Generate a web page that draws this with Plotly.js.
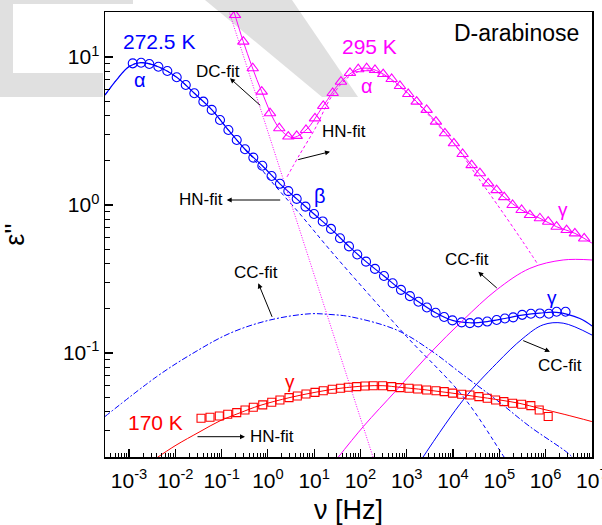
<!DOCTYPE html>
<html>
<head>
<meta charset="utf-8">
<script src="https://cdn.plot.ly/plotly-3.0.1.min.js"></script>
<style>html,body{margin:0;padding:0;background:#fff;}#chart{width:602px;height:525px;}</style>
</head>
<body>
<div id="chart"></div>
<script>
// ---- measured data (read from the reference) ----
// 272.5 K, open blue circles
const blueNu = [0.00120,0.00182,0.00274,0.00430,0.00671,0.0107,0.0168,0.0257,0.0403,0.0611,0.0923,0.140,0.212,0.320,0.484,0.757,1.20,1.82,2.76,4.19,6.49,9.91,15.3,23.1,36.1,56.5,85.3,132,206,322,495,750,1172,1791,2729,4207,6427,9705,15350,23170,34990,54830,87500,132100,199500,312600,482000,753400,1178000,1730000,2704000];
const blueEps = [9.06,9.14,8.97,8.59,8.04,7.29,6.47,5.69,4.99,4.39,3.75,3.21,2.75,2.38,2.09,1.84,1.57,1.39,1.24,1.10,0.975,0.869,0.774,0.689,0.596,0.525,0.463,0.414,0.370,0.331,0.296,0.267,0.242,0.222,0.203,0.187,0.175,0.166,0.161,0.159,0.161,0.163,0.167,0.171,0.174,0.181,0.184,0.185,0.184,0.190,0.190];
// 295 K, open magenta triangles
const magNu = [0.195,0.294,0.470,0.735,1.11,1.76,2.76,4.19,6.65,10.4,15.7,25.1,37.9,59.3,89.5,136,206,310,472,713,1076,1637,2692,4276,6683,10440,16110,25230,38110,57540,87500,127600,193600,303400,458100,753400,1138000,1730000,2844000,4295000,6823000];
const magEps = [19.2,12.7,8.39,5.83,4.17,3.30,2.90,2.93,3.21,3.85,4.67,5.71,6.81,7.80,8.26,8.39,8.17,7.67,7.10,6.37,5.62,4.99,4.39,3.66,3.05,2.61,2.21,1.86,1.64,1.40,1.26,1.13,1.00,0.925,0.855,0.813,0.771,0.713,0.677,0.643,0.594];
// 170 K, open red squares
const redNu = [0.0359,0.0561,0.0891,0.1355,0.212,0.320,0.484,0.773,1.21,1.82,2.86,4.32,6.65,10.4,15.7,24.6,37.3,54.5,82.8,125,189,301,472,713,1117,1718,2692,4276,6457,9795,15350,23170,36220,54830,83180,125600,193600,303400,480800,727800,1138000];
const redEps = [0.0362,0.0368,0.0375,0.0385,0.0395,0.0412,0.0430,0.0446,0.0465,0.0481,0.0499,0.0512,0.0528,0.0542,0.0556,0.0569,0.0577,0.0586,0.0592,0.0598,0.0601,0.0601,0.0592,0.0583,0.0577,0.0571,0.0562,0.0556,0.0548,0.0535,0.0526,0.0520,0.0507,0.0494,0.0481,0.0469,0.0457,0.0450,0.0441,0.0412,0.0372];

// ---- fit curves ----
const blueFitNu = [0.000302,0.000537,0.001,0.00178,0.00427,0.0107,0.0257,0.0617,0.140,0.320,0.757,1.82,4.19,9.91,23.1,56.5,132,322,750,1791,4207,9705,23170,54830,132100,312600,753400,1730000,5508000,10140000];
const blueFitEps = [5.53,7.00,8.61,9.16,8.59,7.29,5.69,4.39,3.21,2.38,1.84,1.39,1.10,0.869,0.689,0.525,0.414,0.331,0.267,0.222,0.187,0.166,0.160,0.163,0.171,0.180,0.186,0.188,0.171,0.152];
const blueHNNu = [0.000302,0.000537,0.001,0.00178,0.00427,0.0107,0.0257,0.0617,0.140,0.320,0.410,1.11,4.93,21.9,160,995,16600,112200,169400];
const blueHNEps = [5.53,7.00,8.61,9.16,8.59,7.29,5.69,4.39,3.21,2.38,2.19,1.48,0.869,0.497,0.244,0.129,0.0507,0.0210,0.0172];
const blueCCbNu = [0.000302,0.00396,0.0207,0.152,1.11,8.11,21.9,59.3,605,3170,16600,87500,458100,3076000,4295000];
const blueCCbEps = [0.0372,0.0692,0.0968,0.136,0.167,0.184,0.182,0.176,0.143,0.105,0.0710,0.0481,0.0318,0.0210,0.0189];
const blueCCgNu = [1928,16600,87500,328100,887200,2399000,10140000];
const blueCCgEps = [0.0184,0.0481,0.0851,0.126,0.155,0.159,0.132];

const magFitNu = [0.176,0.294,0.735,1.76,3.40,6.65,15.7,37.9,89.5,160,310,713,1637,4276,10440,25230,57540,127600,303400,753400,1730000,4295000,10000000];
const magFitEps = [21.4,12.7,5.83,3.30,2.86,3.21,4.67,6.81,8.26,8.36,7.67,6.37,4.99,3.66,2.61,1.86,1.40,1.13,0.925,0.813,0.713,0.643,0.553];
const magHNNu = [2.59,4.93,10.4,24.2,59.3,136,310,713,1637,4276,10440,29720,87500,303400,691800];
const magHNEps = [1.55,2.21,3.27,5.45,7.45,8.17,7.50,6.27,4.93,3.58,2.61,1.64,1.02,0.581,0.394];
const magDCNu = [0.124,5.19,216];
const magDCEps = [23.6,0.637,0.0172];
const magCCNu = [29.6,115,605,3170,16600,87500,458100,2399000,10140000];
const magCCEps = [0.0189,0.0318,0.0562,0.0995,0.167,0.267,0.373,0.425,0.425];

const redFitNu = [0.00365,0.00986,0.0341,0.0923,0.249,0.675,3.00,10.4,36.1,125,306,713,2472,8570,29720,103000,278600,753400,2612000,10000000];
const redFitEps = [0.0192,0.0236,0.0294,0.0348,0.0394,0.0442,0.0500,0.0542,0.0577,0.0598,0.0601,0.0586,0.0564,0.0538,0.0509,0.0481,0.0456,0.0422,0.0384,0.0344];

// ---- tick labels ----
const xTickVals = [1e-3,1e-2,1e-1,1e0,1e1,1e2,1e3,1e4,1e5,1e6,1e7];
const xTickText = ['10<sup>-3</sup>','10<sup>-2</sup>','10<sup>-1</sup>','10<sup>0</sup>','10<sup>1</sup>','10<sup>2</sup>','10<sup>3</sup>','10<sup>4</sup>','10<sup>5</sup>','10<sup>6</sup>','10<sup>7</sup>'];
const yTickVals = [0.1,1,10];
const yTickText = ['10<sup>-1</sup>','10<sup>0</sup>','10<sup>1</sup>'];

// ---- styling ----
const BLUE = '#0000ff', MAG = '#ff00ff', RED = '#ff0000';
const FONT = 'Liberation Sans, Arial, sans-serif';

function line(x, y, color, dash, width, shape) {
  return {x: x, y: y, type: 'scatter', mode: 'lines', hoverinfo: 'skip',
    line: {color: color, width: width || 1, dash: dash || 'solid', shape: shape || 'spline', smoothing: 1}};
}
function pts(x, y, color, symbol, size) {
  return {x: x, y: y, type: 'scatter', mode: 'markers', hoverinfo: 'skip',
    marker: {symbol: symbol, size: size, color: color, line: {color: color, width: 1.1}}};
}

const traces = [
  line(blueCCbNu, blueCCbEps, BLUE, '6px,2px,2px,2px', 1),
  line(blueCCgNu, blueCCgEps, BLUE, 'solid', 1),
  line(blueHNNu, blueHNEps, BLUE, '4px,3px', 1),
  line(blueFitNu, blueFitEps, BLUE, 'solid', 1.2),
  line(magDCNu, magDCEps, MAG, '1px,1.5px', 1, 'linear'),
  line(magHNNu, magHNEps, MAG, '3px,2.5px', 1),
  line(magCCNu, magCCEps, MAG, 'solid', 1),
  line(magFitNu, magFitEps, MAG, 'solid', 1),
  line(redFitNu, redFitEps, RED, 'solid', 1),
  pts(blueNu, blueEps, BLUE, 'circle-open', 9),
  pts(magNu, magEps, MAG, 'triangle-up-open', 10),
  pts(redNu, redEps, RED, 'square-open', 8)
];

// pixel -> paper helpers for text placement
const L = 105, R = 592, T = 12, B = 457;
const PX = p => (p - L) / (R - L);
const PY = p => (B - p) / (B - T);

function label(text, px, py, color, size) {
  return {xref: 'paper', yref: 'paper', x: PX(px), y: PY(py), text: text, showarrow: false,
    xanchor: 'center', yanchor: 'middle', font: {family: FONT, color: color, size: size}};
}
function arrow(tx, ty, hx, hy) {
  return {xref: 'paper', yref: 'paper', x: PX(hx), y: PY(hy), ax: tx - hx, ay: ty - hy,
    axref: 'pixel', ayref: 'pixel', text: '', showarrow: true, arrowhead: 2, arrowsize: 1,
    arrowwidth: 1, arrowcolor: '#000', standoff: 0, startstandoff: 0};
}

const annotations = [
  label('272.5 K', 159, 41.5, BLUE, 21),
  label('α', 140, 80, BLUE, 20),
  label('295 K', 369, 46.5, MAG, 21),
  label('α', 367, 86, MAG, 20),
  label('D-arabinose', 516, 32.5, '#000', 23),
  label('β', 320, 196, BLUE, 20),
  label('γ', 563, 209, MAG, 19),
  label('γ', 552, 297, BLUE, 19),
  label('γ', 290, 381, RED, 19),
  label('170 K', 155, 422.5, RED, 21),
  label('DC-fit', 217.5, 71, '#000', 17),
  label('HN-fit', 344, 131.5, '#000', 17),
  label('HN-fit', 201, 199, '#000', 17),
  label('CC-fit', 256, 272.5, '#000', 17),
  label('CC-fit', 466.7, 259, '#000', 17),
  label('CC-fit', 560, 365, '#000', 17),
  label('HN-fit', 271.7, 436, '#000', 17),
  arrow(261.7, 106.7, 230, 78.3),
  arrow(296.7, 160, 330, 151.7),
  arrow(281.7, 200, 226.7, 200),
  arrow(272.7, 318.3, 258.3, 283.3),
  arrow(498.3, 289.3, 478.3, 271.7),
  arrow(521.7, 340, 550, 351.7),
  arrow(196, 436.7, 245, 436.7)
];

// light grey watermark letters behind the chart
function poly(pts) {
  return 'M' + pts.map(p => PX(p[0]).toFixed(4) + ',' + PY(p[1]).toFixed(4)).join(' L') + ' Z';
}
const WM = '#e0e0e0';
const shapes = [
  {type: 'path', xref: 'paper', yref: 'paper', layer: 'below', line: {width: 0}, fillcolor: WM,
    path: poly([[0,0],[133,0],[133,4],[13,4],[13,73],[103,73],[103,97],[0,97]])},
  {type: 'path', xref: 'paper', yref: 'paper', layer: 'below', line: {width: 0}, fillcolor: WM,
    path: poly([[205,0],[292,0],[358,97],[322,97]])}
];

const axisCommon = {
  type: 'log', showgrid: false, zeroline: false, showline: true, mirror: true,
  linecolor: '#000', linewidth: 1.5, ticks: 'inside', ticklen: 8, tickwidth: 1.2, tickcolor: '#000',
  tickmode: 'array', tickangle: 0, ticklabeloverflow: 'allow',
  tickfont: {family: FONT, size: 21, color: '#000'},
  minor: {ticks: 'inside', ticklen: 4, tickwidth: 1, tickcolor: '#000', dtick: 'D1', showgrid: false}
};

const layout = {
  width: 602, height: 525,
  margin: {l: L, r: 602 - R, t: T, b: 525 - B},
  paper_bgcolor: '#fff', plot_bgcolor: 'rgba(0,0,0,0)',
  showlegend: false,
  font: {family: FONT, color: '#000'},
  xaxis: Object.assign({}, axisCommon, {
    range: [-3.52, 7.003], tickvals: xTickVals, ticktext: xTickText, ticklabelstandoff: 4,
    title: {text: 'ν [Hz]', font: {family: FONT, size: 27, color: '#000'}, standoff: 12}
  }),
  yaxis: Object.assign({}, axisCommon, {
    range: [-1.703, 1.304], tickvals: yTickVals, ticktext: yTickText,
    minor: Object.assign({}, axisCommon.minor, {ticklen: 5}),
    title: {text: "ε''", font: {family: FONT, size: 27, color: '#000'}, standoff: 34}
  }),
  annotations: annotations,
  shapes: shapes
};

Plotly.newPlot('chart', traces, layout, {displayModeBar: false, staticPlot: true});
</script>
</body>
</html>
